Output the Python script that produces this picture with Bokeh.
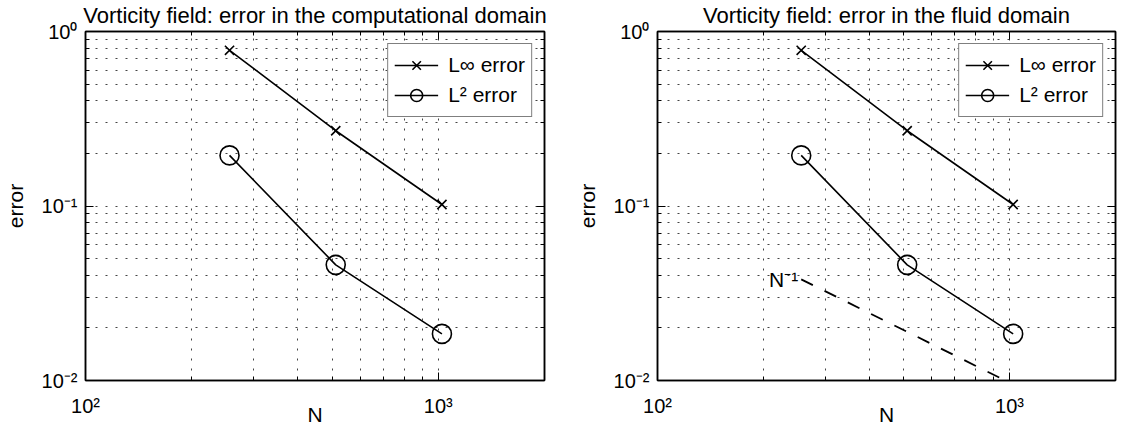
from bokeh.plotting import figure
from bokeh.layouts import row
from bokeh.models import FixedTicker, LogAxis, Legend, LegendItem, Range1d
from bokeh.embed import file_html
from bokeh.resources import INLINE
from bokeh.core.properties import value

# ---- data ----
N = [256, 512, 1024]
err_inf = [0.78, 0.27, 0.102]
err_l2 = [0.195, 0.046, 0.0185]
N_ref = [256, 1024]
err_ref = [0.038, 0.0095]
ref_label = "N⁻¹"

x_major = [100, 1000]
x_minor = [200, 300, 400, 500, 600, 700, 800, 900, 2000]
y_major = [0.01, 0.1, 1]
y_minor = [0.02, 0.03, 0.04, 0.05, 0.06, 0.07, 0.08, 0.09,
           0.2, 0.3, 0.4, 0.5, 0.6, 0.7, 0.8, 0.9]
x_labels = {100: "10²", 1000: "10³"}
y_labels = {0.01: "10⁻²", 0.1: "10⁻¹", 1: "10⁰"}

titles = ["Vorticity field: error in the computational domain",
          "Vorticity field: error in the fluid domain"]
legend_labels = ["L∞ error", "L² error"]
x_title = "N"
y_title = "error"

FONT = "Liberation Sans"
FS = "20px"


def style_axis(ax, labels, show_labels=True):
    ax.major_tick_in = 8
    ax.major_tick_out = 0
    ax.minor_tick_in = 4
    ax.minor_tick_out = 0
    ax.axis_line_color = "black"
    ax.axis_line_width = 1.5
    ax.major_tick_line_color = "black"
    ax.minor_tick_line_color = "black"
    ax.major_tick_line_width = 1
    ax.minor_tick_line_width = 1
    ax.major_label_text_font = FONT
    ax.major_label_text_color = "black"
    if show_labels:
        ax.major_label_overrides = labels
        ax.major_label_text_font_size = FS
    else:
        ax.major_label_overrides = {k: " " for k in labels}
        ax.major_label_text_font_size = "1px"
        ax.major_label_standoff = 0
    ax.axis_label_text_font = FONT
    ax.axis_label_text_font_size = "21px"
    ax.axis_label_text_font_style = "normal"
    ax.axis_label_text_color = "black"


def make_fig(title, width, border_left, border_right, with_ref, title_offset):
    xr = Range1d(100, 2000)
    yr = Range1d(0.01, 1)
    p = figure(width=width, height=428, x_axis_type="log", y_axis_type="log",
               x_range=xr, y_range=yr,
               output_backend="svg", toolbar_location=None,
               min_border_left=border_left, min_border_right=border_right,
               min_border_top=24, min_border_bottom=43)
    p.title.text = title
    p.title.align = "center"
    p.title.offset = title_offset
    p.title.text_font = FONT
    p.title.text_font_size = "22px"
    p.title.text_font_style = "normal"
    p.title.text_color = "black"
    p.title.standoff = 0
    p.background_fill_color = "white"
    p.border_fill_color = "white"
    p.outline_line_color = "black"
    p.outline_line_width = 1.5

    xt = FixedTicker(ticks=x_major, minor_ticks=x_minor)
    yt = FixedTicker(ticks=y_major, minor_ticks=y_minor)
    p.xaxis.ticker = xt
    p.yaxis.ticker = yt
    style_axis(p.xaxis[0], x_labels)
    style_axis(p.yaxis[0], y_labels)
    p.xaxis.axis_label = x_title
    p.yaxis.axis_label = y_title
    p.xaxis.major_label_standoff = 14
    p.xaxis.axis_label_standoff = -17
    p.yaxis.major_label_standoff = 8
    p.yaxis.axis_label_standoff = 12

    top = LogAxis(ticker=xt)
    style_axis(top, x_labels, show_labels=False)
    p.add_layout(top, "above")
    right = LogAxis(ticker=yt)
    style_axis(right, y_labels, show_labels=False)
    p.add_layout(right, "right")

    for g in (p.xgrid, p.ygrid):
        g.grid_line_color = "#444444"
        g.grid_line_dash = "2 8"
        g.grid_line_width = 1
        g.minor_grid_line_color = "#444444"
        g.minor_grid_line_dash = "2 8"
        g.minor_grid_line_width = 1

    l1 = p.line(N, err_inf, line_color="black", line_width=1.6)
    m1 = p.scatter(N, err_inf, marker="x", size=13, line_color="black", line_width=1.6)
    l2 = p.line(N, err_l2, line_color="black", line_width=1.6)
    m2 = p.scatter(N, err_l2, marker="circle", size=19, line_color="black",
                   fill_color=None, line_width=1.6)

    if with_ref:
        p.line(N_ref, err_ref, line_color="black", line_width=1.8, line_dash="13 13")
        p.text(x=[N_ref[0]], y=[err_ref[0]], text=[ref_label],
               text_font=value(FONT), text_font_size="21px", text_color="black",
               text_align="right", text_baseline="middle", x_offset=-3, y_offset=0)

    leg = Legend(items=[LegendItem(label=legend_labels[0], renderers=[l1, m1]),
                        LegendItem(label=legend_labels[1], renderers=[l2, m2])],
                 location="top_right")
    leg.label_text_font = FONT
    leg.label_text_font_size = "21px"
    leg.label_text_color = "black"
    leg.border_line_color = "black"
    leg.border_line_width = 1.5
    leg.background_fill_color = "white"
    leg.background_fill_alpha = 1
    leg.glyph_width = 44
    leg.glyph_height = 30
    leg.label_height = 30
    leg.label_standoff = 10
    leg.padding = 6
    leg.spacing = 0
    leg.margin = 12
    p.add_layout(leg, "center")
    return p


p1 = make_fig(titles[0], 572, 78, 28, False, 9)
p2 = make_fig(titles[1], 546, 79, 1, True, 0)
layout = row(p1, p2)

open("out.html", "w").write(file_html(layout, INLINE))
